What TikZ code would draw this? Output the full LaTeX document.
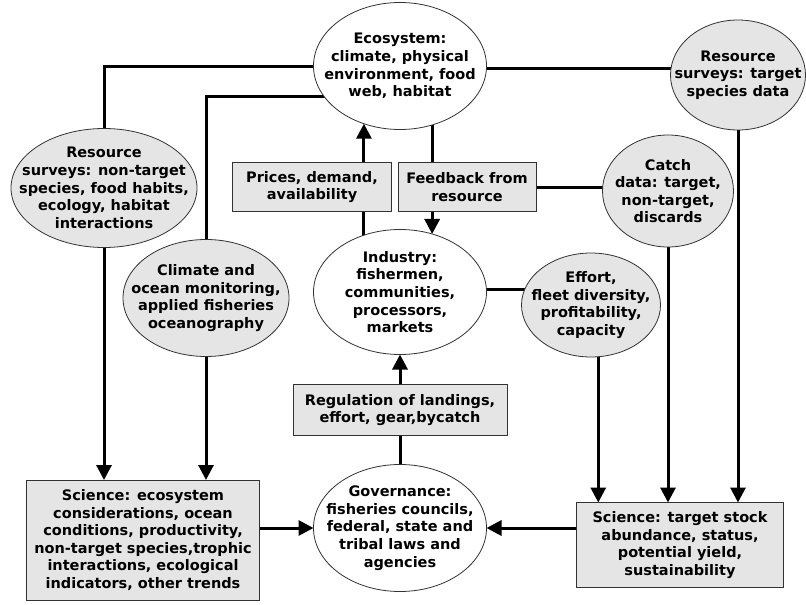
\documentclass[tikz,border=0pt]{standalone}
\usepackage{fontspec}
\setmainfont{DejaVu Sans}
\usetikzlibrary{arrows.meta,shapes.geometric,backgrounds}
\definecolor{lg}{RGB}{229,229,229}
\definecolor{bd}{RGB}{50,50,50}
\begin{document}
\begin{tikzpicture}[x=1pt,y=-1pt,
  ell/.style={ellipse, draw=bd, line width=0.8pt, inner sep=0pt, outer sep=0pt},
  ellw/.style={ell, fill=white},
  ellg/.style={ell, fill=lg},
  boxg/.style={rectangle, draw=bd, line width=0.8pt, fill=lg, inner sep=0pt, outer sep=0pt, align=center, font=\fontsize{14.5}{17.6}\selectfont\bfseries},
  txt/.style={align=center, inner sep=0pt, font=\fontsize{14.5}{17.6}\selectfont\bfseries},
  con/.style={line width=3pt},
  arr/.style={con, -{Triangle[length=15pt,width=15pt]}},
]
\useasboundingbox (0,0) rectangle (806,605);

% ellipses
\node[ellw, minimum width=173pt, minimum height=127pt] (eco) at (400,66) {};
\node[txt] (ecot) at (eco) {Ecosystem:\\climate, physical\\environment, food\\web, habitat};

\node[ellg, minimum width=135pt, minimum height=110pt] (rst) at (738,75) {};
\node[txt] (rstt) at (rst) {Resource\\surveys: target\\species data};

\node[ellg, minimum width=186pt, minimum height=119pt] (rsn) at (104,188) {};
\node[txt] (rsnt) at (rsn) {Resource\\surveys: non-target\\species, food habits,\\ecology, habitat\\interactions};

\node[ellg, minimum width=166pt, minimum height=117pt] (cli) at (206,298) {};
\node[txt] (clit) at (cli) {Climate and\\ocean monitoring,\\applied fisheries\\oceanography};

\node[ellg, minimum width=131pt, minimum height=112pt] (cat) at (668,191) {};
\node[txt] (catt) at (cat) {Catch\\data: target,\\non-target,\\discards};

\node[ellw, minimum width=173pt, minimum height=125pt] (ind) at (400,292) {};
\node[txt] (indt) at (ind) {Industry:\\fishermen,\\communities,\\processors,\\markets};

\node[ellg, minimum width=139pt, minimum height=104pt] (eff) at (591,305) {};
\node[txt] (efft) at (eff) {Effort,\\fleet diversity,\\profitability,\\capacity};

\node[ellw, minimum width=173pt, minimum height=127pt] (gov) at (400,528) {};
\node[txt] (govt) at (gov) {Governance:\\fisheries councils,\\federal, state and\\tribal laws and\\agencies};

% boxes
\node[boxg, minimum width=159pt, minimum height=49pt] (pr) at (312,187) {Prices, demand,\\availability};
\node[boxg, minimum width=138pt, minimum height=49pt] (fb) at (467,187) {Feedback from\\resource};
\node[boxg, minimum width=214pt, minimum height=51pt] (reg) at (400,410) {Regulation of landings,\\effort, gear,bycatch};
\node[boxg, minimum width=233pt, minimum height=120pt] (scil) at (143,540) {Science: ecosystem\\considerations, ocean\\conditions, productivity,\\non-target species,trophic\\interactions, ecological\\indicators, other trends};
\node[boxg, minimum width=207pt, minimum height=85pt] (scir) at (680,545) {Science: target stock\\abundance, status,\\potential yield,\\sustainability};

% connectors
\begin{scope}[on background layer]
\draw[con] (eco.center) -| (rsn.north);
\draw[con] (eco.center |- eco.202) -| (cli.north);
\draw[con] (eco.center) ++(0,2) coordinate (ecoR) (ecoR) -- (ecoR -| rst.center);
\draw[arr] (rsn.center) -- (rsn.center |- scil.north);
\draw[arr] (cli.center) -- (cli.center |- scil.north);
\draw[arr] (rst.center) -- (rst.center |- scir.north);
\draw[arr] (cat.center) -- (cat.center |- scir.north);
\draw[arr] (eff.-82 |- eff.center) -- (eff.-82 |- scir.north);
\draw[arr] (eco.238 |- pr.north) -- (eco.238);
\draw[con] (eco.238 |- ind.center) -- (eco.238 |- pr.south);
\draw[con] (ind.61 |- eco.center) -- (ind.61 |- fb.north);
\draw[arr] (ind.61 |- fb.south) -- (ind.61);
\draw[con] (fb.center) -- (fb.center -| cat.center);
\draw[con] (ind.center) ++(0,-3) coordinate (indR) (indR) -- (indR -| eff.center);
\draw[con] (gov.center) -- (reg.center);
\draw[arr] (reg.north) -- (ind.south);
\draw[arr] (gov.west -| scil.center) -- (gov.west);
\draw[arr] (gov.east -| scir.center) -- (gov.east);
\end{scope}
\end{tikzpicture}
\end{document}
